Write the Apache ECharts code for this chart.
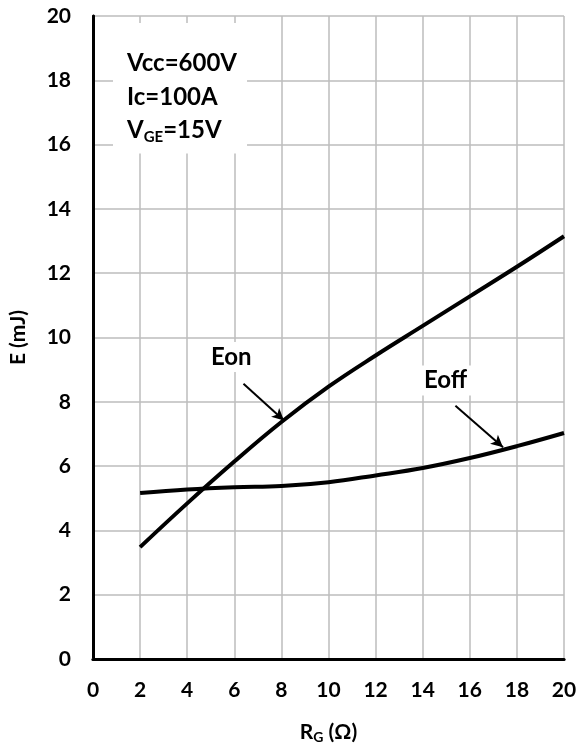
<!DOCTYPE html>
<html>
<head>
<meta charset="utf-8">
<script src="https://cdn.jsdelivr.net/npm/echarts@6/dist/echarts.min.js"></script>
<style>
  html, body { margin: 0; padding: 0; background: #fff; }
  #chart { width: 581px; height: 749px; }
</style>
</head>
<body>
<div id="chart"></div>
<script>
// Gate resistance (ohm) and switching energies (mJ)
const rg = [2, 4, 6, 8, 10, 12, 14, 16, 18, 20];
const eon = [3.48, 4.84, 6.14, 7.37, 8.47, 9.44, 10.36, 11.28, 12.2, 13.15];
const eoff = [5.16, 5.27, 5.34, 5.38, 5.5, 5.71, 5.94, 6.25, 6.62, 7.03];
const xTicks = [0, 2, 4, 6, 8, 10, 12, 14, 16, 18, 20];
const yTicks = [0, 2, 4, 6, 8, 10, 12, 14, 16, 18, 20];

// Callout positions (text anchor, arrow tail, arrow head) in data units
const eonCallout = { text: [5.87, 9.39], from: [6.39, 8.56], to: [8.11, 7.42] };
const eoffCallout = { text: [14.97, 8.66], from: [15.39, 7.88], to: [17.41, 6.59] };

const FONT = 'Lato';

function pairs(xs, ys) { return xs.map((x, i) => [x, ys[i]]); }

function callout(name, c) {
  return {
    markPoint: {
      symbol: 'rect', symbolSize: 0, silent: true,
      label: {
        show: true, formatter: name, color: '#000', fontFamily: FONT,
        fontWeight: 'bold', fontSize: 24, backgroundColor: '#fff',
        padding: [3, 7, 3, 7], position: 'inside'
      },
      data: [{ coord: c.text }]
    },
    markLine: {
      silent: true, symbol: ['none', 'arrow'], symbolSize: [9, 12],
      label: { show: false },
      lineStyle: { color: '#000', width: 2, type: 'solid' },
      data: [[{ coord: c.from }, { coord: c.to }]]
    }
  };
}

const chart = echarts.init(document.getElementById('chart'));
chart.setOption({
  animation: false,
  backgroundColor: '#fff',
  grid: { left: 88, right: 17, top: 16, bottom: 88, containLabel: false },
  title: {
    left: 113, top: 23,
    text: 'Vcc=600V\nIc=100A\nV{s|GE}=15V',
    backgroundColor: '#fff', padding: [24, 10, 6, 14],
    textStyle: {
      fontFamily: FONT, fontWeight: 'bold', fontSize: 24, color: '#000',
      lineHeight: 33.5,
      rich: { s: { fontFamily: FONT, fontWeight: 'bold', fontSize: 15, color: '#000', lineHeight: 33.5, padding: [12, 0, 0, 0] } }
    }
  },
  xAxis: [{
    type: 'value', min: xTicks[0], max: xTicks[xTicks.length - 1], interval: 2,
    name: 'R{s|G} (Ω)', nameLocation: 'middle', nameGap: 62,
    nameTextStyle: {
      fontFamily: FONT, fontWeight: 'bold', fontSize: 21, color: '#000',
      rich: { s: { fontFamily: FONT, fontWeight: 'bold', fontSize: 14, color: '#000', padding: [9, 0, 0, 0] } }
    },
    axisLine: { show: true, lineStyle: { color: '#6e6e6e', width: 3 } },
    axisTick: { show: false },
    splitLine: { show: true, lineStyle: { color: '#bcbcbc', width: 1.5 } },
    axisLabel: { fontFamily: FONT, fontWeight: 'bold', fontSize: 21, color: '#000', margin: 21 }
  }, {
    type: 'value', position: 'top', min: 0, max: 20, interval: 2,
    axisLine: { show: true, lineStyle: { color: '#000', width: 3 } },
    axisTick: { show: false }, axisLabel: { show: false }, splitLine: { show: false }
  }],
  yAxis: [{
    type: 'value', min: yTicks[0], max: yTicks[yTicks.length - 1], interval: 2,
    name: 'E (mJ)', nameLocation: 'middle', nameGap: 64, nameRotate: 90,
    nameTextStyle: { fontFamily: FONT, fontWeight: 'bold', fontSize: 21, color: '#000' },
    axisLine: { show: true, lineStyle: { color: '#3c3c3c', width: 2.5 } },
    axisTick: { show: false },
    splitLine: { show: true, lineStyle: { color: '#bcbcbc', width: 1.5 } },
    axisLabel: { fontFamily: FONT, fontWeight: 'bold', fontSize: 21, color: '#000', margin: 22 }
  }, {
    type: 'value', position: 'right', min: 0, max: 20, interval: 2,
    axisLine: { show: true, lineStyle: { color: '#000', width: 3 } },
    axisTick: { show: false }, axisLabel: { show: false }, splitLine: { show: false }
  }],
  series: [
    Object.assign({
      name: 'Eon', type: 'line', smooth: 0.4, showSymbol: false,
      data: pairs(rg, eon),
      lineStyle: { color: '#000', width: 4 }, z: 3
    }, callout('Eon', eonCallout)),
    Object.assign({
      name: 'Eoff', type: 'line', smooth: 0.4, showSymbol: false,
      data: pairs(rg, eoff),
      lineStyle: { color: '#000', width: 4 }, z: 3
    }, callout('Eoff', eoffCallout))
  ]
});
</script>
</body>
</html>
